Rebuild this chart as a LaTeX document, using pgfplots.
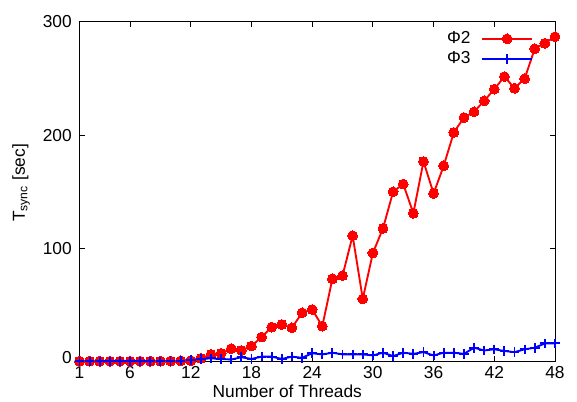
\documentclass[border=0pt]{standalone}
\usepackage{fontspec}
\setmainfont{Liberation Sans}
\usepackage{pgfplots}
\pgfplotsset{compat=1.18}
\definecolor{gpred}{RGB}{255,0,0}
\definecolor{gpblue}{RGB}{0,0,255}
\begin{document}
\begin{tikzpicture}
\begin{axis}[
  scale only axis,
  width=356.6pt, height=255pt,
  xmin=1, xmax=48, ymin=0, ymax=300,
  xtick={1,6,12,18,24,30,36,42,48},
  ytick={0,100,200,300},
  yticklabels={\raisebox{7pt}{0},100,200,300},
  minor tick num=0,
  tick align=inside,
  major tick length=4pt,
  tick style={black, line width=0.6pt},
  axis line style={black, line width=0.6pt},
  /pgf/number format/assume math mode=true,
  tick label style={font=\fontsize{13}{15}\selectfont, inner sep=0pt},
  xticklabel style={yshift=-3.5pt},
  yticklabel style={xshift=-5.6pt},
  clip=false,
  xlabel={Number of Threads},
  ylabel={T\textsubscript{sync} [sec]},
  label style={font=\fontsize{13}{15}\selectfont, inner sep=0pt},
  xlabel style={at={(axis description cs:0.437,0)}, anchor=north, yshift=-17pt},
  ylabel style={at={(axis description cs:0,0.526)}, rotate=0, anchor=south, yshift=37pt},
  legend style={draw=none, fill=none, at={(1,1)}, anchor=north east,
    xshift=-16.25pt, yshift=-5.4pt, inner sep=0pt, column sep=7pt, row sep=0.5pt,
    font=\fontsize{13}{15}\selectfont,
    nodes={text height=9.5pt, text depth=3pt, inner sep=1pt}},
  legend plot pos=right,
  legend cell align=right,
  legend image code/.code={\draw[mark repeat=2,mark phase=2,#1] plot coordinates {(0pt,0pt) (18.75pt,0pt) (37.5pt,0pt)};},
]
\addplot[color=gpred, line width=1.4pt, mark=*, mark size=3.7pt, mark options={solid, fill=gpred, draw=gpred, line width=0pt}] coordinates {
(1,0.5)(2,0.5)(3,0.5)(4,0.5)(5,0.5)(6,0.5)(7,0.5)(8,0.5)(9,0.5)(10,0.6)(11,0.8)(12,1)
(13,3)(14,6.5)(15,7.4)(16,11.5)(17,10)(18,13.9)(19,21.8)(20,30.6)(21,32.9)(22,30)
(23,43.2)(24,46.1)(25,31.4)(26,73.2)(27,76)(28,111.3)(29,55.5)(30,96)(31,117.7)
(32,150)(33,156.8)(34,131)(35,176.7)(36,148.5)(37,172.9)(38,202.3)(39,215.5)
(40,220.5)(41,230.2)(42,240.5)(43,251.6)(44,241.3)(45,249.8)(46,276.2)(47,281)(48,286.8)
};
\addlegendentry{Φ2}
\addplot[color=gpblue, line width=1.4pt, mark=+, mark size=3.6pt, mark options={solid, line width=1.4pt}] coordinates {
(1,0.3)(2,0.3)(3,0.3)(4,0.3)(5,0.3)(6,0.3)(7,0.3)(8,0.3)(9,0.4)(10,0.5)(11,1)(12,1.5)
(13,2.5)(14,3)(15,2.5)(16,2)(17,4)(18,2.5)(19,4.5)(20,4.5)(21,2.5)(22,4.5)(23,3.5)(24,7.5)
(25,6.5)(26,8)(27,6.5)(28,6.5)(29,6.5)(30,5.6)(31,8)(32,5)(33,8)(34,7)(35,8.5)(36,5.6)
(37,8)(38,8)(39,7)(40,12.4)(41,10)(42,11)(43,9.5)(44,8.5)(45,11)(46,12.4)(47,16.2)(48,16.2)
};
\addlegendentry{Φ3}
\end{axis}
\path (-59.6pt,-30pt) rectangle (373.1pt,271.3pt);
\end{tikzpicture}
\end{document}
